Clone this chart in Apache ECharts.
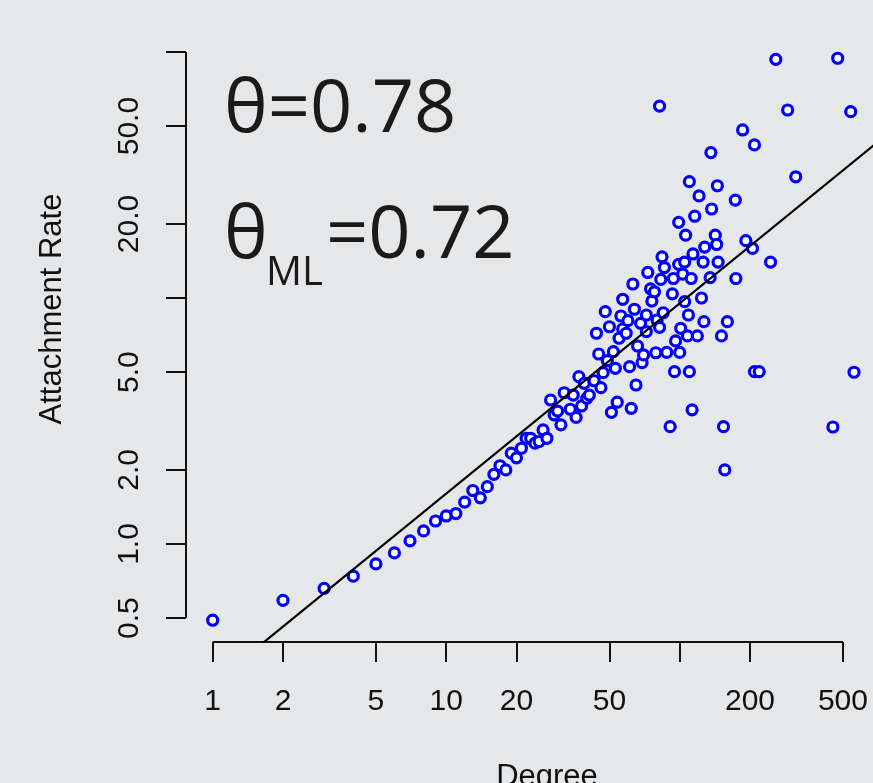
<!DOCTYPE html>
<html>
<head>
<meta charset="utf-8">
<script src="https://cdn.jsdelivr.net/npm/echarts@6/dist/echarts.min.js"></script>
<style>
  html, body { margin: 0; padding: 0; background: #e6e7e9; }
  #chart { width: 873px; height: 783px; }
</style>
</head>
<body>
<div id="chart"></div>
<script>
// ---- data ----
const degree = [
  1, 2, 3, 4, 5, 6, 7, 8, 9, 10,
  11, 12, 13, 14, 15, 16, 17, 18, 19, 20,
  21, 22, 23, 24, 25, 26, 27, 28, 29, 30,
  31, 32, 34, 35, 36, 37, 38, 39, 40, 41,
  43, 44, 45, 46, 47, 48, 49, 50, 51, 52,
  53, 54, 55, 56, 57, 57, 59, 60, 61, 62,
  63, 64, 65, 66, 68, 69, 70, 72, 72, 73,
  75, 76, 78, 79, 80, 82, 82, 83, 84, 85,
  86, 88, 91, 93, 94, 95, 96, 99, 99, 100,
  101, 103, 105, 105, 106, 108, 109, 110, 110, 112,
  113, 114, 116, 119, 121, 124, 126, 127, 128, 135,
  136, 137, 142, 144, 145, 146, 151, 154, 156, 160,
  173, 174, 186, 192, 205, 209, 209, 219, 245, 258,
  290, 314, 453, 475, 540, 558
];
const rate = [
  0.49, 0.59, 0.66, 0.74, 0.83, 0.92, 1.03, 1.13, 1.24, 1.30,
  1.33, 1.48, 1.65, 1.54, 1.71, 1.92, 2.08, 2.00, 2.34, 2.24,
  2.45, 2.69, 2.69, 2.57, 2.61, 2.91, 2.69, 3.85, 3.35, 3.47,
  3.05, 4.12, 3.53, 4.03, 3.27, 4.79, 3.64, 4.50, 3.91, 4.03,
  4.61, 7.19, 5.92, 4.32, 4.97, 8.80, 5.56, 7.64, 3.43, 6.05,
  5.18, 3.77, 6.86, 8.45, 7.48, 9.88, 7.19, 8.09, 5.26, 3.56,
  11.4, 9.00, 4.43, 6.38, 7.89, 5.46, 5.87, 7.30, 8.53, 12.7,
  10.9, 9.72, 10.6, 5.99, 8.14, 7.60, 60.3, 11.9, 14.7, 8.71,
  13.3, 6.01, 3.00, 10.4, 12.0, 5.02, 6.69, 20.3, 13.7, 6.01,
  7.53, 12.5, 14.0, 9.66, 18.0, 7.01, 8.53, 5.02, 29.7, 12.0,
  3.51, 15.1, 21.5, 7.01, 26.0, 10.0, 14.0, 8.01, 16.1, 12.1,
  39.0, 23.0, 18.0, 16.5, 28.6, 14.0, 7.01, 3.00, 2.00, 8.01,
  25.0, 12.0, 48.2, 17.1, 15.9, 41.9, 5.02, 5.02, 14.0, 93.4,
  58.1, 31.1, 2.99, 94.3, 57.2, 4.99
];
// fitted power-law line (two points on it)
const fitDegree = [1, 800];
const fitRate = [0.270, 47.5];

const xTicks = [1, 2, 5, 10, 20, 50, 100, 200, 500];
const xTickLabels = ['1', '2', '5', '10', '20', '50', '', '200', '500'];
const yTicks = [0.5, 1, 2, 5, 10, 20, 50, 100];
const yTickLabels = ['0.5', '1.0', '2.0', '5.0', '', '20.0', '50.0', ''];

const xTitle = 'Degree';
const yTitle = 'Attachment Rate';
const thetaLabel = 'θ=0.78';
const thetaSymbol = 'θ';
const thetaSub = 'ML';
const thetaMLValue = '=0.72';

// ---- layout ----
const GRID = { left: 186, top: 35, width: 693, height: 607, outerBoundsMode: 'none', containLabel: false };
const X_MIN = -0.11435, X_MAX = 2.85353;   // log10 range of the x axis
const Y_MIN = -0.39837, Y_MAX = 2.06911;   // log10 range of the y axis
const INK = '#111111';
const FONT = 'Liberation Sans, Arial, Helvetica, sans-serif';

const lg = v => Math.log10(v);
function labelFor(ticks, labels) {
  return function (v) {
    for (let i = 0; i < ticks.length; i++) {
      if (Math.abs(lg(ticks[i]) - v) < 1e-6) return labels[i];
    }
    return '';
  };
}

const points = degree.map((d, i) => [lg(d), lg(rate[i])]);
const fitLine = fitDegree.map((d, i) => [lg(d), lg(fitRate[i])]);
const yAxisLine = [[X_MIN, lg(yTicks[0])], [X_MIN, lg(yTicks[yTicks.length - 1])]];
const xAxisLine = [[lg(xTicks[0]), Y_MIN], [lg(xTicks[xTicks.length - 1]), Y_MIN]];

const chart = echarts.init(document.getElementById('chart'), null, { renderer: 'canvas' });
chart.setOption({
  animation: false,
  backgroundColor: '#e6e7e9',
  grid: GRID,
  xAxis: {
    type: 'value', min: X_MIN, max: X_MAX,
    axisLine: { show: false, onZero: false },
    splitLine: { show: false },
    axisTick: {
      show: true, inside: false, length: 20,
      customValues: xTicks.map(lg),
      lineStyle: { color: INK, width: 2 }
    },
    axisLabel: {
      show: true, margin: 45,
      customValues: xTicks.filter((t, i) => xTickLabels[i] !== '').map(lg),
      formatter: labelFor(xTicks, xTickLabels),
      color: INK, fontFamily: FONT, fontSize: 30
    }
  },
  yAxis: {
    type: 'value', min: Y_MIN, max: Y_MAX,
    axisLine: { show: false, onZero: false },
    splitLine: { show: false },
    axisTick: {
      show: true, inside: false, length: 20,
      customValues: yTicks.map(lg),
      lineStyle: { color: INK, width: 2 }
    },
    axisLabel: {
      show: true, margin: 41, rotate: 90,
      customValues: yTicks.filter((t, i) => yTickLabels[i] !== '').map(lg),
      formatter: labelFor(yTicks, yTickLabels),
      color: INK, fontFamily: FONT, fontSize: 30
    }
  },
  series: [
    {
      type: 'line', data: yAxisLine, clip: false, symbol: 'none', silent: true,
      lineStyle: { color: INK, width: 2 }, z: 3
    },
    {
      type: 'line', data: xAxisLine, clip: false, symbol: 'none', silent: true,
      lineStyle: { color: INK, width: 2 }, z: 3
    },
    {
      type: 'scatter', data: points, symbol: 'circle', symbolSize: 10,
      itemStyle: { color: '#ffffff', borderColor: '#0000ff', borderWidth: 3.2, opacity: 1 },
      z: 4
    },
    {
      type: 'line', data: fitLine, clip: true, symbol: 'none', silent: true,
      lineStyle: { color: '#000000', width: 2.2 }, z: 5
    }
  ],
  graphic: [
    {
      type: 'text', x: 52, y: 309, rotation: Math.PI / 2,
      style: { text: yTitle, font: '31px ' + FONT, fill: INK, align: 'center', verticalAlign: 'middle' }
    },
    {
      type: 'text', x: 547, y: 777,
      style: { text: xTitle, font: '31px ' + FONT, fill: INK, align: 'center', verticalAlign: 'middle' }
    },
    {
      type: 'text', x: 224, y: 111,
      style: { text: thetaLabel, font: '74px "Open Sans"', fill: '#1a1a1a', align: 'left', verticalAlign: 'middle' }
    },
    {
      type: 'text', x: 224, y: 237,
      style: { text: thetaSymbol, font: '74px "Open Sans"', fill: '#1a1a1a', align: 'left', verticalAlign: 'middle' }
    },
    {
      type: 'text', x: 266, y: 273.5,
      style: { text: thetaSub, font: '40px "Open Sans"', fill: '#1a1a1a', align: 'left', verticalAlign: 'middle' }
    },
    {
      type: 'text', x: 326, y: 237,
      style: { text: thetaMLValue, font: '74px "Open Sans"', fill: '#1a1a1a', align: 'left', verticalAlign: 'middle' }
    }
  ]
});
</script>
</body>
</html>
